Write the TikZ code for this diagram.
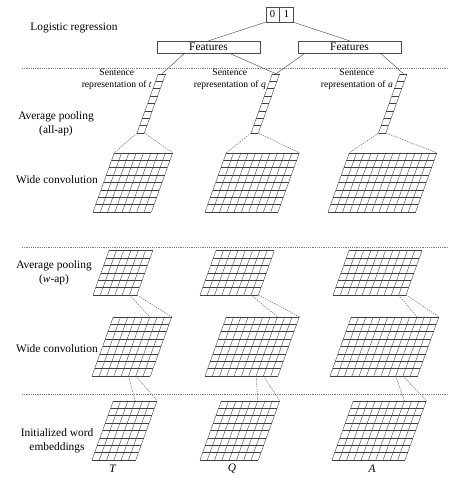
\documentclass[tikz,border=0pt]{standalone}
\usepackage{fontspec}
\setmainfont{Liberation Serif}
\usepackage{tikz}
\usetikzlibrary{calc}

% cell size and slant of the feature maps
\newcommand{\cw}{7.3}
\newcommand{\ch}{7.4}

% slanted grid of cells: name, bottom-left corner, columns, rows
\newcommand{\cellgrid}[4]{%
  \begin{scope}[shift={#2}, xslant=0.36]
    \foreach \i in {0,...,#3} {
      \draw[cell] (\i*\cw,0) -- (\i*\cw,-#4*\ch);
      \coordinate (#1-b\i) at (\i*\cw,0);
      \coordinate (#1-t\i) at (\i*\cw,-#4*\ch);
    }
    \foreach \j in {0,...,#4}
      \draw[cell] (0,-\j*\ch) -- (#3*\cw,-\j*\ch);
  \end{scope}}

\begin{document}
\begin{tikzpicture}[x=1pt, y=-1pt,
    cell/.style={line width=0.4pt, black!75},
    window/.style={dash pattern=on 1.5pt off 1pt, line width=0.4pt, black!65},
    layersep/.style={dash pattern=on 1.2pt off 1pt, line width=0.4pt, black!50},
    featbox/.style={draw=black!70, line width=0.4pt, minimum width=103pt,
        minimum height=12pt, inner sep=0pt, font=\fontsize{11.4}{13}\selectfont},
    digitbox/.style={draw=black!70, line width=0.4pt, minimum width=13.5pt,
        minimum height=15pt, inner sep=0pt, font=\fontsize{10.5}{12}\selectfont},
    layerlabel/.style={align=center, inner sep=0pt, font=\fontsize{11.4}{14}\selectfont},
    sentlabel/.style={align=center, anchor=east, inner sep=0pt,
        font=\fontsize{9.6}{12}\selectfont}]

    \useasboundingbox (0,0) rectangle (448,477);

    % Layer separators
    \draw[layersep] (22,68) -- (448,68);
    \draw[layersep] (22,247) -- (448,247);
    \draw[layersep] (22,394) -- (448,394);

    % Layer names
    \node[layerlabel] (lrlabel) at (74,28) {Logistic regression};
    \node[layerlabel] (allaplabel) at (56,124) {Average pooling\\(all-ap)};
    \node[layerlabel] (topconvlabel) at (57,180) {Wide convolution};
    \node[layerlabel] (waplabel) at (54,273) {Average pooling\\(\textit{w}-ap)};
    \node[layerlabel] (lowconvlabel) at (57,349) {Wide convolution};
    \node[layerlabel] (emblabel) at (57,441) {Initialized word\\embeddings};

    % Output 0|1 and features
    \node[digitbox] (zero) at (272.5,14.5) {0};
    \node[digitbox, anchor=west] (one) at (zero.east) {1};
    \node[featbox] (featL) at (208.5,47) {Features};
    \node[featbox] (featR) at (349.5,47) {Features};
    \draw[cell] (zero.south west) -- (featL.north);
    \draw[cell] (one.south east) -- (featR.north);

    % Sentence representations (all-ap)
    \cellgrid{colT}{(137,133)}{1}{8}
    \cellgrid{colQ}{(251,133)}{1}{8}
    \cellgrid{colA}{(378.5,133)}{1}{8}
    \node[sentlabel] (sentT) at (152,79) {Sentence\\representation of \textit{t}};
    \node[sentlabel] (sentQ) at (266,79) {Sentence\\representation of \textit{q}};
    \node[sentlabel] (sentA) at (393,79) {Sentence\\representation of \textit{a}};

    \draw[cell] ($(featL.south west)!0.27!(featL.south east)$) -- ($(colT-t0)!0.5!(colT-t1)$);
    \draw[cell] ($(featL.south west)!0.70!(featL.south east)$) -- ($(colQ-t0)!0.5!(colQ-t1)$);
    \draw[cell] ($(featR.south west)!0.07!(featR.south east)$) -- ($(colQ-t0)!0.5!(colQ-t1)$);
    \draw[cell] ($(featR.south west)!0.80!(featR.south east)$) -- ($(colA-t0)!0.5!(colA-t1)$);

    % Upper wide convolution
    \cellgrid{topconvT}{(93,212)}{8}{8}
    \cellgrid{topconvQ}{(205,212)}{10}{8}
    \cellgrid{topconvA}{(328,212)}{12}{8}
    \draw[window] (colT-b0) -- (topconvT-t0);
    \draw[window] (colT-b1) -- (topconvT-t8);
    \draw[window] (colQ-b0) -- (topconvQ-t0);
    \draw[window] (colQ-b1) -- (topconvQ-t10);
    \draw[window] (colA-b0) -- (topconvA-t0);
    \draw[window] (colA-b1) -- (topconvA-t12);

    % Average pooling (w-ap)
    \cellgrid{wapT}{(93,295)}{6}{6}
    \cellgrid{wapQ}{(200,295)}{8}{6}
    \cellgrid{wapA}{(333,295)}{10}{6}

    % Lower wide convolution
    \cellgrid{lowconvT}{(92,376)}{8}{8}
    \cellgrid{lowconvQ}{(205,376)}{10}{8}
    \cellgrid{lowconvA}{(330,376)}{12}{8}
    \draw[window] (wapT-b5) -- (lowconvT-t5);
    \draw[window] (wapT-b6) -- (lowconvT-t8);
    \draw[window] (wapQ-b7) -- (lowconvQ-t7);
    \draw[window] (wapQ-b8) -- (lowconvQ-t10);
    \draw[window] (wapA-b9) -- (lowconvA-t9);
    \draw[window] (wapA-b10) -- (lowconvA-t12);

    % Word embeddings
    \cellgrid{embT}{(92,460)}{6}{8}
    \cellgrid{embQ}{(200,460)}{8}{8}
    \cellgrid{embA}{(332,460)}{10}{8}
    \draw[window] (lowconvT-b5) -- (embT-t3);
    \draw[window] (lowconvT-b6) -- (embT-t6);
    \draw[window] (lowconvQ-b7) -- (embQ-t5);
    \draw[window] (lowconvQ-b8) -- (embQ-t8);
    \draw[window] (lowconvA-b9) -- (embA-t7);
    \draw[window] (lowconvA-b10) -- (embA-t10);

    \node[layerlabel] (tlabel) at (113,469) {\textit{T}};
    \node[layerlabel] (qlabel) at (232,469) {\textit{Q}};
    \node[layerlabel] (alabel) at (372,469) {\textit{A}};

\end{tikzpicture}
\end{document}
